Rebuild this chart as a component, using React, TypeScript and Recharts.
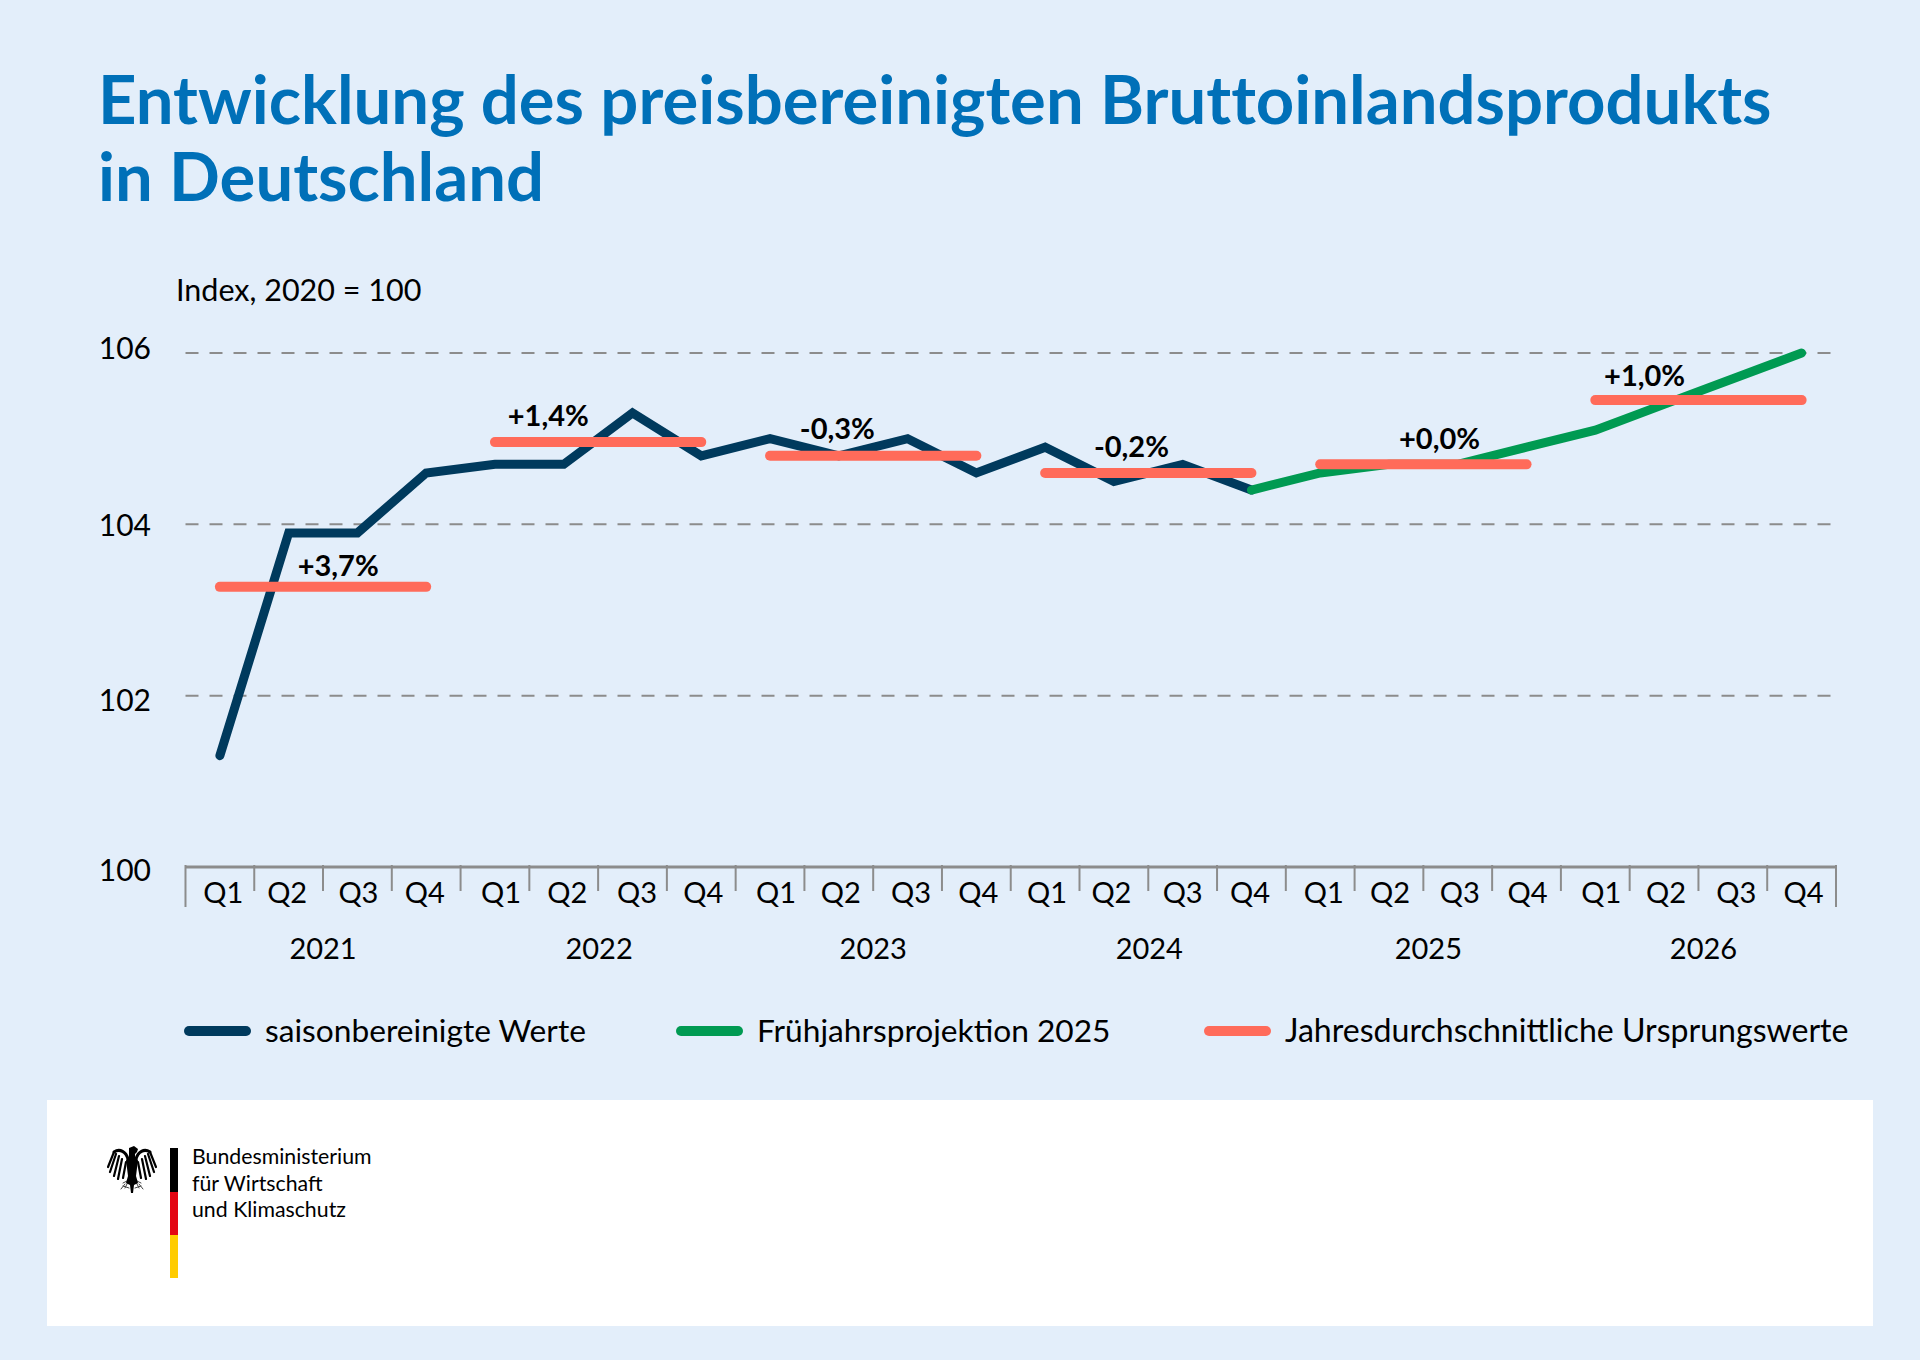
import React from "react";
import { ComposedChart, Line, XAxis, YAxis, CartesianGrid, Legend } from "recharts";

const quarters = ["Q1", "Q2", "Q3", "Q4"];
const years = ["2021", "2022", "2023", "2024", "2025", "2026"];

// saisonbereinigte Werte, null where the projection takes over
const seasonal = [
  101.3, 103.9, 103.9, 104.6,
  104.7, 104.7, 105.3, 104.8,
  105.0, 104.8, 105.0, 104.6,
  104.9, 104.5, 104.7, 104.4,
  null, null, null, null,
  null, null, null, null,
];
const projection = [
  null, null, null, null,
  null, null, null, null,
  null, null, null, null,
  null, null, null, 104.4,
  104.6, 104.7, 104.7, 104.9,
  105.1, 105.4, 105.7, 106.0,
];
const annualAverage = [103.27, 104.96, 104.8, 104.6, 104.7, 105.45];
const annualChange = ["+3,7%", "+1,4%", "-0,3%", "-0,2%", "+0,0%", "+1,0%"];
const yTicks = [100, 102, 104, 106];
const legendNames = ["saisonbereinigte Werte", "Frühjahrsprojektion 2025", "Jahresdurchschnittliche Ursprungswerte"];

// the labels in the original are hand placed, so they get small nudges
const labelShift = [-88, -153, -139, -120, -87, -157];
const labelLift = [11, 16, 17, 16, 15, 14];
const quarterNudge = [2.5, -2.5, 0, -2.5, 5, 2.5, 3.5, 1, 5, 1, 2.5, 1, 1, -3.5, -1, -2.5, 2.5, 0, 1, 0, 5, 1, 2.5, 1];
const yearNudge = [0, 1, 0, 1, 5, 5];

const NAVY = "#003a5d";
const GREEN = "#009a52";
const CORAL = "#ff6b5a";
const FONT = "Lato, sans-serif";

const rows = seasonal.map((value, i) => {
  const yearIndex = Math.floor(i / 4);
  const row: Record<string, unknown> = {
    id: i,
    quarter: quarters[i % 4],
    year: years[yearIndex],
    seasonal: value,
    projection: projection[i],
  };
  row["avg" + yearIndex] = annualAverage[yearIndex];
  return row;
});

const BAND = 68.8;

function QuarterTick({ x, y, payload, index }: any) {
  const i = payload?.index ?? index;
  const row = rows[i];
  const left = x - BAND / 2;
  const isFirst = i === 0;
  const isLast = i === rows.length - 1;
  const axisY = y - 8;
  return (
    <g>
      <line x1={left} x2={left} y1={axisY} y2={axisY + (isFirst ? 42 : 26)} stroke="#8c8c8c" strokeWidth={2} />
      {isLast && (
        <line x1={x + BAND / 2} x2={x + BAND / 2} y1={axisY} y2={axisY + 42} stroke="#8c8c8c" strokeWidth={2} />
      )}
      <text x={x + 1 + quarterNudge[i]} y={axisY + 38} textAnchor="middle" fontFamily={FONT} fontSize={29} fill="#000">
        {row.quarter as string}
      </text>
      {row.quarter === "Q2" && (
        <text
          x={x + BAND / 2 + yearNudge[Math.floor(i / 4)]}
          y={axisY + 94}
          textAnchor="middle"
          fontFamily={FONT}
          fontSize={29}
          fill="#000"
        >
          {row.year as string}
        </text>
      )}
    </g>
  );
}

function ValueTick({ y, payload }: any) {
  const nudge: Record<number, number> = { 100: 4, 102: 5, 104: 2, 106: -4 };
  return (
    <text x={151} y={y + nudge[payload.value] + 10} textAnchor="end" fontFamily={FONT} fontSize={30} fill="#000">
      {payload.value}
    </text>
  );
}

function ChangeLabel(yearIndex: number) {
  return function Label({ x, y, index }: any) {
    // one label per year, hung on the Q4 point of its bar
    if (index !== yearIndex * 4 + 3) return null;
    return (
      <text
        x={x + labelShift[yearIndex]}
        y={y - labelLift[yearIndex]}
        textAnchor="middle"
        fontFamily={FONT}
        fontWeight={700}
        fontSize={29}
        fill="#000"
      >
        {annualChange[yearIndex]}
      </text>
    );
  };
}

function ChartLegend() {
  const colors = [NAVY, GREEN, CORAL];
  const swatchX = [184, 676, 1204];
  const sizes = [31.7, 31.7, 32.1];
  return (
    <div style={{ position: "absolute", left: 0, top: 0, width: 1920, height: 60 }}>
      {legendNames.map((name, i) => (
        <div key={name}>
          <div
            style={{
              position: "absolute",
              left: swatchX[i],
              top: 26,
              width: 67,
              height: 10,
              borderRadius: 5,
              background: colors[i],
            }}
          />
          <div
            style={{
              position: "absolute",
              left: swatchX[i] + 81,
              top: 10,
              fontFamily: FONT,
              fontSize: sizes[i],
              lineHeight: "40px",
              color: "#000",
              whiteSpace: "nowrap",
            }}
          >
            {name}
          </div>
        </div>
      ))}
    </div>
  );
}

function EagleHalf() {
  return (
    <g fill="none" stroke="#000" strokeLinecap="round">
      <path d="M21 13 C19 6 13 2 7 6" strokeWidth={3} />
      <path d="M7 6 L1 21 M9 8 L3 26 M12 10 L7 30 M15 13 L11 33 M19 16 L16 32" strokeWidth={2.2} />
      <path d="M22 34 L16 37 M21 36 L18 42 M16 40 L22 42 M18 38 L14 43" strokeWidth={1} stroke="#444" />
    </g>
  );
}

function Eagle() {
  return (
    <svg style={{ position: "absolute", left: 107, top: 1146 }} width={50} height={47} viewBox="0 0 50 47">
      <EagleHalf />
      <g transform="translate(50 0) scale(-1 1)">
        <EagleHalf />
      </g>
      <path
        fill="#000"
        d="M22 2 L27 0 L31 3 L30 6 L28 8 L28 11 L31 14 L29 30 L31 37 L27 39 L26 47 L24 47 L23 39 L19 37 L21 30 L19 14 L22 11 Z"
      />
    </svg>
  );
}

export default function App() {
  return (
    <div style={{ position: "absolute", left: 0, top: 0, width: 1920, height: 1360, background: "#e3eefa", overflow: "hidden" }}>
      <div
        style={{
          position: "absolute",
          left: 98,
          top: 60,
          fontFamily: FONT,
          fontWeight: 700,
          fontSize: 67,
          lineHeight: "77px",
          fontVariantLigatures: "none",
          color: "#0070b8",
          whiteSpace: "nowrap",
        }}
      >
        Entwicklung des preisbereinigten Bruttoinlandsprodukts
        <br />
        in Deutschland
      </div>
      <div style={{ position: "absolute", left: 176, top: 269, fontFamily: FONT, fontSize: 30.5, lineHeight: "40px", color: "#000" }}>
        Index, 2020 = 100
      </div>

      <div style={{ position: "absolute", left: 0, top: 0 }}>
        <ComposedChart
          width={1920}
          height={1161}
          data={rows}
          margin={{ top: 353, right: 84, bottom: 0, left: 0 }}
        >
          <CartesianGrid vertical={false} stroke="#8c8c8c" strokeWidth={2} strokeDasharray="13 11" horizontalValues={[102, 104, 106]} />
          <XAxis
            dataKey="id"
            type="category"
            scale="band"
            interval={0}
            axisLine={{ stroke: "#8c8c8c", strokeWidth: 3 }}
            tickLine={false}
            tick={<QuarterTick />}
            height={234}
            tickMargin={0}
          />
          <YAxis
            domain={[100, 106]}
            ticks={yTicks}
            width={185.5}
            axisLine={false}
            tickLine={false}
            tick={<ValueTick />}
          />
          <Line dataKey="seasonal" stroke={NAVY} strokeWidth={9} dot={false} strokeLinecap="round" strokeLinejoin="miter" isAnimationActive={false} />
          <Line dataKey="projection" stroke={GREEN} strokeWidth={9} dot={false} strokeLinecap="round" strokeLinejoin="miter" isAnimationActive={false} />
          {years.map((year, i) => (
            <Line
              key={year}
              dataKey={"avg" + i}
              stroke={CORAL}
              strokeWidth={10}
              dot={false}
              strokeLinecap="round"
              isAnimationActive={false}
              label={ChangeLabel(i)}
            />
          ))}
          <Legend
            verticalAlign="bottom"
            wrapperStyle={{ position: "absolute", left: 0, top: 1000, width: 1920, height: 60 }}
            content={<ChartLegend />}
          />
        </ComposedChart>
      </div>

      <div style={{ position: "absolute", left: 47, top: 1100, width: 1826, height: 226, background: "#fff" }} />
      <Eagle />
      <div style={{ position: "absolute", left: 170, top: 1148, width: 8, height: 44, background: "#000" }} />
      <div style={{ position: "absolute", left: 170, top: 1192, width: 8, height: 43, background: "#e30613" }} />
      <div style={{ position: "absolute", left: 170, top: 1235, width: 8, height: 43, background: "#ffcc00" }} />
      <div
        style={{
          position: "absolute",
          left: 192,
          top: 1143,
          fontFamily: FONT,
          fontSize: 21.3,
          lineHeight: "26.5px",
          color: "#000",
          whiteSpace: "nowrap",
        }}
      >
        Bundesministerium
        <br />
        für Wirtschaft
        <br />
        und Klimaschutz
      </div>
    </div>
  );
}
